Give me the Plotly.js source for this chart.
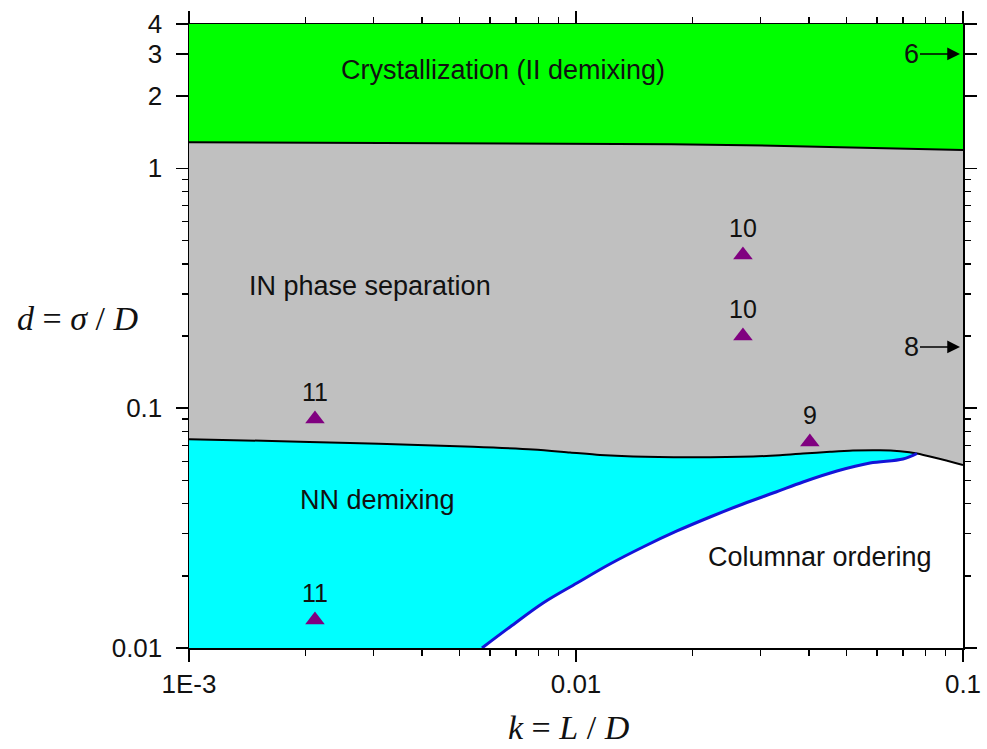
<!DOCTYPE html>
<html>
<head>
<meta charset="utf-8">
<script src="https://cdn.plot.ly/plotly-3.0.1.min.js"></script>
<style>html,body{margin:0;padding:0;background:#fff;}#chart{width:987px;height:749px;}</style>
</head>
<body>
<div id="chart"></div>
<script>
// Crystallization / IN boundary
const greenX = [0.001, 0.00692, 0.0176, 0.0275, 0.0379, 0.052, 0.0692, 0.1];
const greenY = [1.285, 1.273, 1.261, 1.249, 1.237, 1.225, 1.208, 1.193];
// IN / NN boundary (continues past junction to right edge)
const grayX = [0.001, 0.001638, 0.002606, 0.003724, 0.005418, 0.007743, 0.009649, 0.011535, 0.01404, 0.019706,
               0.028671, 0.033673, 0.038608, 0.04533, 0.051951, 0.061026, 0.068766, 0.076037, 0.1];
const grayY = [0.0742, 0.07299, 0.0716, 0.07037, 0.06903, 0.06727, 0.06536, 0.06381, 0.0629, 0.06248,
               0.0629, 0.06368, 0.06467, 0.0658, 0.06657, 0.06676, 0.06612, 0.06473, 0.05796];
const junctionIndex = 17;
// NN / columnar boundary (blue)
const blueX = [0.005716, 0.006754, 0.008222, 0.01006, 0.01224, 0.0149, 0.01824, 0.0222, 0.02701, 0.03287,
               0.03861, 0.04724, 0.0575, 0.06998, 0.076037];
const blueY = [0.01, 0.01224, 0.01541, 0.01867, 0.0224, 0.02637, 0.03076, 0.03518, 0.03986, 0.04472,
               0.04923, 0.0547, 0.05908, 0.06139, 0.06473];
// Simulation points
const ptX = [0.002116, 0.002116, 0.0270, 0.0270, 0.0402];
const ptY = [0.0902, 0.01309, 0.4355, 0.2000, 0.0723];
const ptLabel = ['11', '11', '10', '10', '9'];
// Axes
const xMin = 0.001, xMax = 0.1, yMin = 0.01, yMax = 4;
const xTickVals = [0.001, 0.01, 0.1];
const xTickText = ['1E-3', '0.01', '0.1'];
const yTickVals = [0.01, 0.1, 1, 2, 3, 4];
const yTickText = ['0.01', '0.1', '1', '2', '3', '4'];
const xMinor = [0.002,0.003,0.004,0.005,0.006,0.007,0.008,0.009,0.02,0.03,0.04,0.05,0.06,0.07,0.08,0.09];
const yMinor = [0.02,0.03,0.04,0.05,0.06,0.07,0.08,0.09,0.2,0.3,0.4,0.5,0.6,0.7,0.8,0.9];

const sans = 'Liberation Sans, Arial, sans-serif';
const serif = 'Liberation Serif, Times New Roman, serif';

// Region polygons
const greenPolyX = greenX.concat([xMax, xMin]);
const greenPolyY = greenY.concat([yMax, yMax]);
const grayPolyX = greenX.concat(grayX.slice().reverse());
const grayPolyY = greenY.concat(grayY.slice().reverse());
const cyanPolyX = grayX.slice(0, junctionIndex + 1).concat(blueX.slice().reverse()).concat([xMin]);
const cyanPolyY = grayY.slice(0, junctionIndex + 1).concat(blueY.slice().reverse()).concat([yMin]);

const traces = [
  {x: greenPolyX, y: greenPolyY, mode: 'lines', fill: 'toself', fillcolor: '#00ff00', line: {width: 0}, hoverinfo: 'skip'},
  {x: grayPolyX, y: grayPolyY, mode: 'lines', fill: 'toself', fillcolor: '#c0c0c0', line: {width: 0}, hoverinfo: 'skip'},
  {x: cyanPolyX, y: cyanPolyY, mode: 'lines', fill: 'toself', fillcolor: '#00ffff', line: {width: 0}, hoverinfo: 'skip'},
  {x: greenX, y: greenY, mode: 'lines', line: {color: '#000', width: 2}, hoverinfo: 'skip'},
  {x: grayX, y: grayY, mode: 'lines', line: {color: '#000', width: 2, shape: 'spline', smoothing: 0.8}, hoverinfo: 'skip'},
  {x: blueX, y: blueY, mode: 'lines', line: {color: '#1414d8', width: 3, shape: 'spline', smoothing: 1}, hoverinfo: 'skip'},
  {x: ptX, y: ptY, mode: 'markers+text', text: ptLabel, textposition: 'top center',
   textfont: {family: sans, size: 25, color: '#111'},
   marker: {symbol: 'triangle-up', size: 17, color: '#800080'}, hoverinfo: 'skip'}
];

function px2paperX(px) { return (px - 189) / 774; }
function px2paperY(py) { return (648 - py) / 624; }

const regionFont = {family: sans, size: 27, color: '#111'};
const annotations = [
  {text: 'Crystallization (II demixing)', x: px2paperX(503), y: px2paperY(70)},
  {text: 'IN phase separation', x: px2paperX(370), y: px2paperY(286)},
  {text: 'NN demixing', x: px2paperX(377), y: px2paperY(500)},
  {text: 'Columnar ordering', x: px2paperX(820), y: px2paperY(557)}
].map(a => Object.assign({xref: 'paper', yref: 'paper', showarrow: false, font: regionFont, xanchor: 'center', yanchor: 'middle'}, a));

const logSpan = Math.log10(yMax / yMin);
annotations.push(
  {text: '6', xref: 'paper', yref: 'paper', x: 1, y: (Math.log10(3) - Math.log10(yMin)) / logSpan,
   showarrow: true, ax: -52, ay: 0, axref: 'pixel', ayref: 'pixel', arrowhead: 2, arrowsize: 1.7, arrowwidth: 1.5,
   arrowcolor: '#000', standoff: 3, font: regionFont},
  {text: '8', xref: 'paper', yref: 'paper', x: 1, y: (Math.log10(0.18) - Math.log10(yMin)) / logSpan,
   showarrow: true, ax: -52, ay: 0, axref: 'pixel', ayref: 'pixel', arrowhead: 2, arrowsize: 1.7, arrowwidth: 1.5,
   arrowcolor: '#000', standoff: 3, font: regionFont},
  {text: '<i>d</i> = <i>σ</i> / <i>D</i>', xref: 'paper', yref: 'paper', x: px2paperX(77), y: px2paperY(318),
   showarrow: false, xanchor: 'center', yanchor: 'middle', font: {family: serif, size: 34, color: '#111'}},
  {text: '<i>k</i> = <i>L</i> / <i>D</i>', xref: 'paper', yref: 'paper', x: px2paperX(569), y: px2paperY(727),
   showarrow: false, xanchor: 'center', yanchor: 'middle', font: {family: serif, size: 34, color: '#111'}}
);

const axisCommon = {
  type: 'log', showgrid: false, zeroline: false, showline: true, linecolor: '#000', linewidth: 1.5,
  mirror: 'ticks', ticks: 'outside', ticklen: 12, tickwidth: 1.5, tickcolor: '#000',
  tickfont: {family: sans, size: 26, color: '#111'}
};

const layout = {
  width: 987, height: 749,
  margin: {l: 189, r: 24, t: 24, b: 101, pad: 0},
  paper_bgcolor: '#fff', plot_bgcolor: '#fff',
  showlegend: false,
  xaxis: Object.assign({}, axisCommon, {
    range: [Math.log10(xMin), Math.log10(xMax)],
    tickmode: 'array', tickvals: xTickVals, ticktext: xTickText,
    minor: {tickvals: xMinor, ticks: 'outside', ticklen: 6, tickwidth: 1.5, tickcolor: '#000', showgrid: false}
  }),
  yaxis: Object.assign({}, axisCommon, {
    range: [Math.log10(yMin), Math.log10(yMax)],
    tickmode: 'array', tickvals: yTickVals, ticktext: yTickText, ticklabelstandoff: 8,
    minor: {tickvals: yMinor, ticks: 'outside', ticklen: 6, tickwidth: 1.5, tickcolor: '#000', showgrid: false}
  }),
  annotations: annotations
};

Plotly.newPlot('chart', traces, layout, {staticPlot: true, displayModeBar: false});
</script>
</body>
</html>
